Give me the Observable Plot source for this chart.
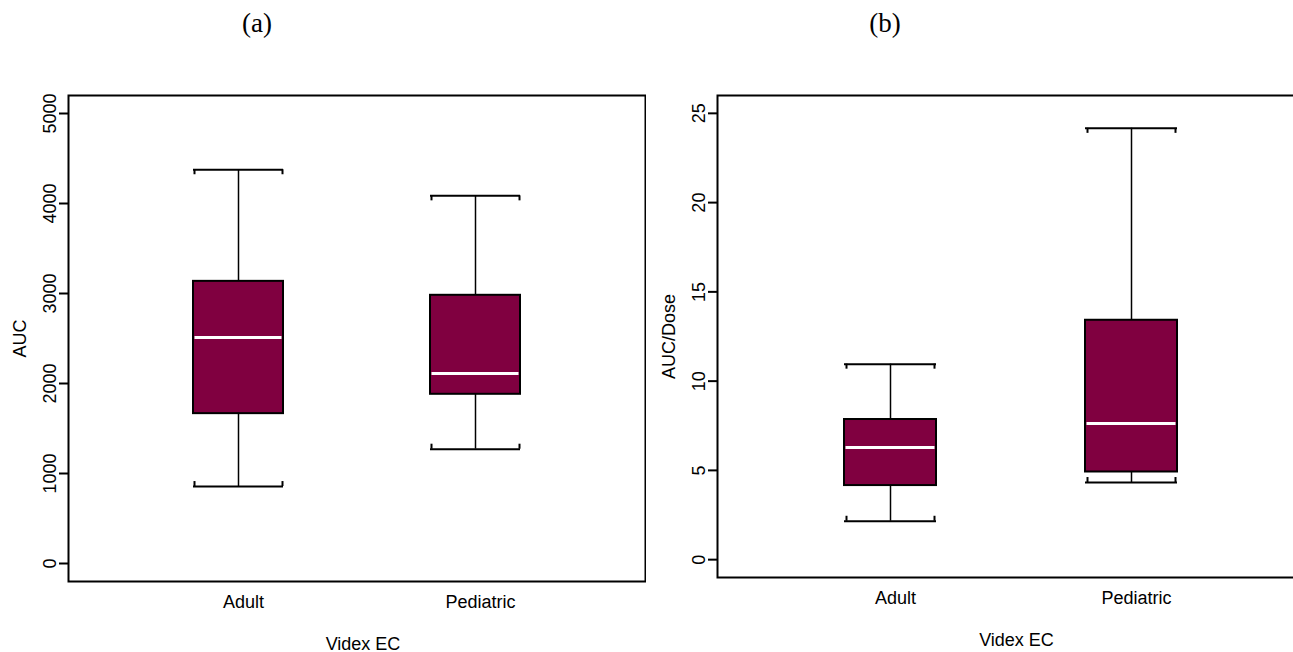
<!DOCTYPE html>
<html>
<head>
<meta charset="utf-8">
<script src="https://cdn.jsdelivr.net/npm/d3@7"></script>
<script src="https://cdn.jsdelivr.net/npm/@observablehq/plot@0.6"></script>
<style>
  html, body { margin: 0; padding: 0; background: #fff; overflow: hidden; }
  #page { position: relative; width: 1293px; height: 652px; overflow: hidden; }
  .panel { position: absolute; top: 0; width: 660px; height: 652px; }
  .panel svg { max-width: none !important; }
  .tag {
    position: absolute; top: 8px; width: 60px; margin-left: -30px; text-align: center;
    font-family: "Liberation Serif", "Times New Roman", serif; font-size: 27px; color: #000;
  }
</style>
</head>
<body>
<div id="page"></div>
<script>
// Videx EC exposure by population: box-and-whisker summaries
const groups = ["Adult", "Pediatric"];

// (a) AUC
const aucLow    = [855, 1270];
const aucQ1     = [1665, 1880];
const aucMedian = [2510, 2110];
const aucQ3     = [3135, 2980];
const aucHigh   = [4375, 4085];
const aucTicks  = [0, 1000, 2000, 3000, 4000, 5000];

// (b) AUC/Dose
const doseLow    = [2.15, 4.32];
const doseQ1     = [4.15, 4.91];
const doseMedian = [6.28, 7.62];
const doseQ3     = [7.85, 13.41];
const doseHigh   = [10.95, 24.16];
const doseTicks  = [0, 5, 10, 15, 20, 25];

const xLabel = "Videx EC";
const boxFill = "#800040";

function rows(lo, q1, med, q3, hi) {
  return groups.map((g, i) => ({group: g, lo: lo[i], q1: q1[i], median: med[i], q3: q3[i], hi: hi[i]}));
}

function boxPanel({data, ticks, yDomain, yLabel, margins}) {
  return Plot.plot({
    width: 660,
    height: 652,
    ...margins,
    style: {fontFamily: "'Liberation Sans', Arial, sans-serif", fontSize: "18px", background: "#fff", color: "#000"},
    x: {type: "band", domain: groups, paddingInner: 0.62, paddingOuter: 0.525, align: 0.5},
    y: {domain: yDomain},
    marks: [
      Plot.axisY(ticks, {tickSize: 9, tickPadding: 4, tickRotate: -90, tickFormat: d => String(d), strokeWidth: 2, label: null}),
      Plot.axisX({tickSize: 0, tickPadding: 14, dx: 5, label: null}),
      // whisker stems
      Plot.ruleX(data, {x: "group", y1: "lo", y2: "hi", stroke: "#000", strokeWidth: 1.5}),
      // whisker caps with short end hooks pointing at the box
      Plot.tickY(data, {x: "group", y: "hi", stroke: "#000", strokeWidth: 2}),
      Plot.tickY(data, {x: "group", y: "lo", stroke: "#000", strokeWidth: 2}),
      Plot.ruleX(data, {x: "group", y1: "hi", y2: "hi", insetBottom: -5, dx: -44, stroke: "#000", strokeWidth: 2}),
      Plot.ruleX(data, {x: "group", y1: "hi", y2: "hi", insetBottom: -5, dx: 44, stroke: "#000", strokeWidth: 2}),
      Plot.ruleX(data, {x: "group", y1: "lo", y2: "lo", insetTop: -5, dx: -44, stroke: "#000", strokeWidth: 2}),
      Plot.ruleX(data, {x: "group", y1: "lo", y2: "lo", insetTop: -5, dx: 44, stroke: "#000", strokeWidth: 2}),
      // interquartile box
      Plot.barY(data, {x: "group", y1: "q1", y2: "q3", fill: boxFill, stroke: "#000", strokeWidth: 2}),
      // median
      Plot.tickY(data, {x: "group", y: "median", stroke: "#fff", strokeWidth: 3, insetLeft: 1.5, insetRight: 1.5}),
      Plot.frame({stroke: "#000", strokeWidth: 2}),
      Plot.text([yLabel], {text: d => d, frameAnchor: "left", dx: -48, rotate: -90, lineAnchor: "middle", textAnchor: "middle"}),
      Plot.text([xLabel], {text: d => d, frameAnchor: "bottom", dx: 6, dy: 63, lineAnchor: "middle"})
    ]
  });
}

const page = document.getElementById("page");

function addPanel(left, chart, tagText, tagX) {
  const wrap = document.createElement("div");
  wrap.className = "panel";
  wrap.style.left = left + "px";
  wrap.appendChild(chart);
  page.appendChild(wrap);
  const tag = document.createElement("div");
  tag.className = "tag";
  tag.style.left = tagX + "px";
  tag.textContent = tagText;
  page.appendChild(tag);
}

addPanel(0, boxPanel({
  data: rows(aucLow, aucQ1, aucMedian, aucQ3, aucHigh),
  ticks: aucTicks,
  yDomain: [-200, 5200],
  yLabel: "AUC",
  margins: {marginLeft: 68, marginRight: 15, marginTop: 95, marginBottom: 71}
}), "(a)", 257);

addPanel(646, boxPanel({
  data: rows(doseLow, doseQ1, doseMedian, doseQ3, doseHigh),
  ticks: doseTicks,
  yDomain: [-1, 26],
  yLabel: "AUC/Dose",
  margins: {marginLeft: 71, marginRight: 3, marginTop: 95, marginBottom: 75}
}), "(b)", 885);
</script>
</body>
</html>
